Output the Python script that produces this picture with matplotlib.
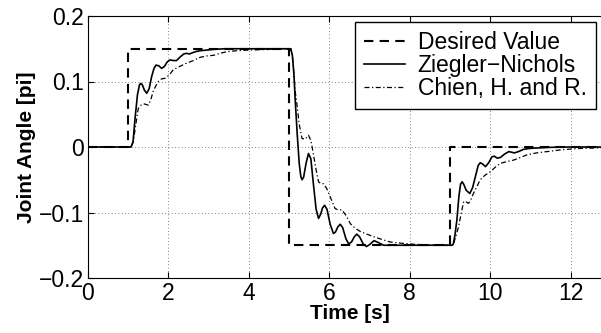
import numpy as np
import matplotlib.pyplot as plt

plt.rcParams['font.family'] = ['Liberation Sans', 'DejaVu Sans']

# desired value (step profile)
t_des = [0, 1.0, 1.0, 5.0, 5.0, 9.0, 9.0, 13.0]
v_des = [0, 0, 0.15, 0.15, -0.15, -0.15, 0, 0]

# Ziegler-Nichols response
t_zn = [0, 1.07, 1.12, 1.17, 1.23, 1.28, 1.31, 1.35, 1.40, 1.46, 1.52, 1.58, 1.64, 1.69,
        1.76, 1.83, 1.90, 1.97, 2.04, 2.12, 2.20, 2.30, 2.38, 2.45, 2.52, 2.60, 2.70, 2.79,
        2.95, 3.12, 3.4, 3.8, 5.04,
        5.08, 5.12, 5.15, 5.20, 5.25, 5.29, 5.32, 5.36, 5.42, 5.48, 5.54, 5.60, 5.67, 5.73,
        5.78, 5.83, 5.88, 5.94, 6.02, 6.10, 6.15, 6.21, 6.27, 6.33, 6.41, 6.48, 6.55, 6.62,
        6.68, 6.75, 6.84, 6.92, 7.00, 7.11, 7.22, 7.35, 7.5, 7.8, 9.05,
        9.08, 9.12, 9.17, 9.22, 9.26, 9.30, 9.34, 9.40, 9.49, 9.56, 9.63, 9.70, 9.75, 9.81,
        9.88, 9.96, 10.04, 10.10, 10.17, 10.25, 10.35, 10.46, 10.53, 10.6, 10.7, 10.83,
        11.0, 11.5, 12.0, 13.0]
v_zn = [0, 0, 0.008, 0.044, 0.080, 0.095, 0.097, 0.095, 0.087, 0.082, 0.089, 0.107, 0.120, 0.125,
        0.124, 0.120, 0.123, 0.130, 0.133, 0.132, 0.132, 0.138, 0.142, 0.143, 0.142, 0.144, 0.146, 0.147,
        0.148, 0.149, 0.150, 0.150, 0.150,
        0.140, 0.110, 0.072, 0.020, -0.025, -0.045, -0.050, -0.046, -0.025, -0.010, -0.018, -0.055, -0.095, -0.109,
        -0.103, -0.093, -0.089, -0.095, -0.118, -0.132, -0.130, -0.122, -0.118, -0.123, -0.140, -0.148, -0.145, -0.137,
        -0.133, -0.137, -0.148, -0.152, -0.149, -0.143, -0.146, -0.150, -0.150, -0.150, -0.150,
        -0.148, -0.135, -0.111, -0.075, -0.057, -0.053, -0.057, -0.066, -0.071, -0.062, -0.045, -0.028, -0.024, -0.026,
        -0.030, -0.024, -0.015, -0.014, -0.017, -0.016, -0.011, -0.007, -0.008, -0.009, -0.007, -0.0035,
        -0.002, -0.0005, 0, 0]

# Chien, Hrones and Reswick response
t_ch = [0, 1.08, 1.13, 1.19, 1.25, 1.32, 1.38, 1.44, 1.50, 1.56, 1.62, 1.70, 1.75, 1.83,
        1.92, 2.02, 2.12, 2.28, 2.45, 2.62, 2.79, 2.95, 3.12, 3.28, 3.45, 3.7, 4.0, 4.5, 5.04,
        5.08, 5.12, 5.15, 5.19, 5.25, 5.32, 5.40, 5.48, 5.54, 5.60, 5.67, 5.73, 5.79, 5.85,
        5.93, 6.02, 6.14, 6.22, 6.31, 6.42, 6.52, 6.64, 6.77, 6.93, 7.10, 7.30, 7.51, 7.8,
        8.1, 8.5, 9.06,
        9.10, 9.15, 9.21, 9.28, 9.34, 9.40, 9.46, 9.52, 9.58, 9.67, 9.75, 9.87, 10.0, 10.12,
        10.25, 10.42, 10.58, 10.75, 10.91, 11.15, 11.41, 11.8, 12.3, 13.0]
v_ch = [0, 0, 0.010, 0.035, 0.059, 0.064, 0.066, 0.065, 0.064, 0.072, 0.085, 0.095, 0.100, 0.104,
        0.105, 0.110, 0.118, 0.123, 0.128, 0.132, 0.137, 0.139, 0.140, 0.143, 0.1455, 0.147, 0.148, 0.149, 0.150,
        0.140, 0.110, 0.085, 0.067, 0.035, 0.013, 0.012, 0.018, 0.010, -0.010, -0.035, -0.053, -0.056, -0.056,
        -0.063, -0.076, -0.094, -0.096, -0.096, -0.105, -0.117, -0.124, -0.129, -0.133, -0.137, -0.141, -0.145, -0.147,
        -0.1485, -0.1495, -0.150,
        -0.145, -0.135, -0.122, -0.100, -0.083, -0.084, -0.086, -0.080, -0.071, -0.060, -0.050, -0.043, -0.038, -0.031,
        -0.025, -0.022, -0.020, -0.016, -0.012, -0.009, -0.007, -0.004, -0.002, -0.001]

fig = plt.figure(figsize=(6.01, 3.33), dpi=100)
ax = fig.add_axes([88 / 601, 55 / 333, 523 / 601, 262 / 333])

ax.plot(t_des, v_des, 'k--', lw=1.5, dashes=(4.5, 3), label='Desired Value')
ax.plot(t_zn, v_zn, 'k-', lw=1.2, label='Ziegler\u2212Nichols')
ax.plot(t_ch, v_ch, 'k-.', lw=0.9, dashes=(4, 2, 1, 2), label='Chien, H. and R.')

ax.set_xlim(0, 13)
ax.set_ylim(-0.2, 0.2)
ax.set_xticks([0, 2, 4, 6, 8, 10, 12])
ax.set_yticks([-0.2, -0.1, 0, 0.1, 0.2])
ax.set_yticklabels(['\u22120.2', '\u22120.1', '0', '0.1', '0.2'])
ax.tick_params(direction='in', labelsize=16.5, top=True, right=True, length=4, pad=3)
ax.grid(True, linestyle=(0, (1, 3)), color='0.35', lw=0.6)
ax.set_xlabel('Time [s]', fontsize=15, fontweight='bold', labelpad=-1)
ax.set_ylabel('Joint Angle [pi]', fontsize=15, fontweight='bold', labelpad=2)

leg = ax.legend(loc='upper right', bbox_to_anchor=(0.971, 0.977), borderaxespad=0,
                fontsize=16.5, fancybox=False, edgecolor='k', framealpha=1,
                handlelength=1.8, borderpad=0.4, labelspacing=0.0, handletextpad=0.55)
leg.get_frame().set_linewidth(1.0)

fig.savefig('out.png', dpi=100)
